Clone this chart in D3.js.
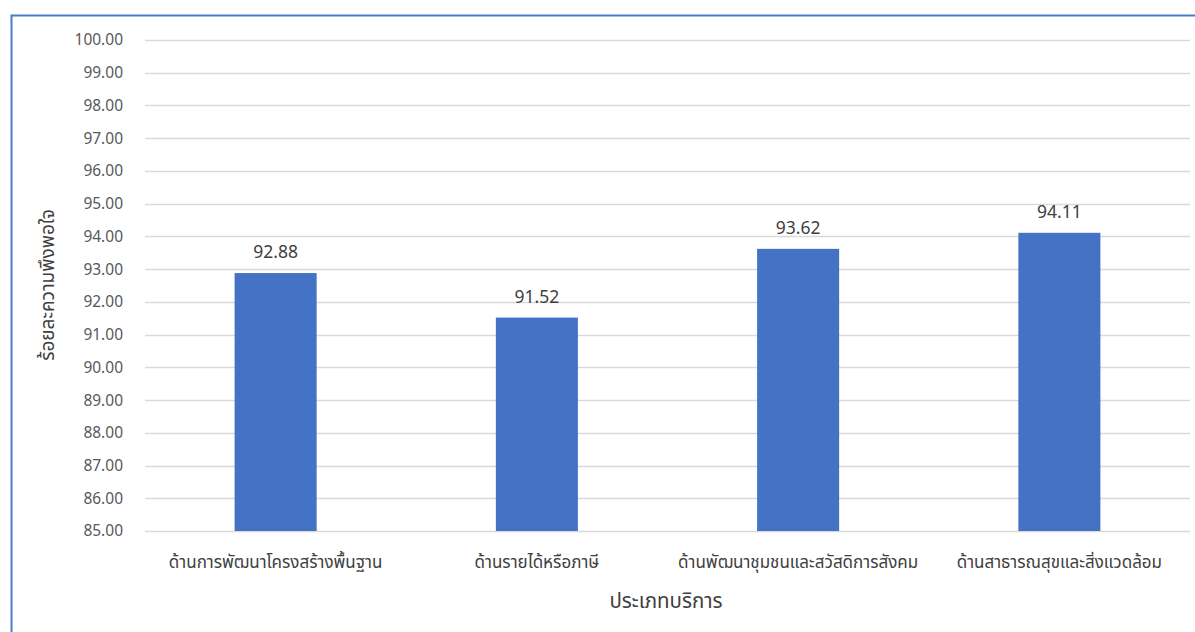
<!DOCTYPE html>
<html lang="th">
<head>
<meta charset="UTF-8">
<title>ร้อยละความพึงพอใจ</title>
<script src="https://d3js.org/d3.v7.min.js"></script>
<style>
  body { margin: 0; background: #fff; }
  svg text { font-family: "Leelawadee UI", "Noto Sans Thai", "Noto Sans", "DejaVu Sans", sans-serif; }
</style>
</head>
<body>
<div id="chart"></div>
<script>
// data
const categories = ["ด้านการพัฒนาโครงสร้างพื้นฐาน", "ด้านรายได้หรือภาษี", "ด้านพัฒนาชุมชนและสวัสดิการสังคม", "ด้านสาธารณสุขและสิ่งแวดล้อม"];
const values = [92.88, 91.52, 93.62, 94.11];
const yTicks = [85, 86, 87, 88, 89, 90, 91, 92, 93, 94, 95, 96, 97, 98, 99, 100];
const xTitle = "ประเภทบริการ";
const yTitle = "ร้อยละความพึงพอใจ";

const W = 1195, H = 632;
const margin = {top: 40, right: 5, bottom: 101, left: 145};
const width = W - margin.left - margin.right,
      height = H - margin.top - margin.bottom;

const root = d3.select("#chart").append("svg")
    .attr("width", W).attr("height", H);

// outer frame (only top and left edges are visible in the picture)
root.append("path")
    .attr("d", `M11.5,${H} V15.5 H${W}`)
    .attr("fill", "none")
    .attr("stroke", "#4a7ccc")
    .attr("stroke-width", 2);

const svg = root.append("g")
    .attr("transform", `translate(${margin.left},${margin.top})`);

const x = d3.scaleBand()
    .domain(categories)
    .range([0, width])
    .padding(0);

const y = d3.scaleLinear()
    .domain([85, 100])
    .range([height, 0]);

// gridlines
svg.append("g")
  .selectAll("line")
  .data(yTicks)
  .join("line")
    .attr("x1", 0).attr("x2", width)
    .attr("y1", d => Math.round(y(d)) + 0.5)
    .attr("y2", d => Math.round(y(d)) + 0.5)
    .attr("stroke", "#d9d9d9")
    .attr("stroke-width", 1.3);

// y axis labels
const yAxis = svg.append("g")
    .call(d3.axisLeft(y).tickValues(yTicks).tickFormat(d3.format(".2f")).tickSize(0).tickPadding(22));
yAxis.select(".domain").remove();
yAxis.selectAll("text")
    .attr("fill", "#595959")
    .style("font-size", "15.5px");

// x axis labels
const xAxis = svg.append("g")
    .attr("transform", `translate(0,${height})`)
    .call(d3.axisBottom(x).tickSize(0).tickPadding(25));
xAxis.select(".domain").remove();
xAxis.selectAll("text")
    .attr("fill", "#404040")
    .style("font-size", "17px");

// bars
const barW = x.bandwidth() * 0.314;
svg.selectAll(".bar")
  .data(values)
  .join("rect")
    .attr("class", "bar")
    .attr("x", (d, i) => x(categories[i]) + (x.bandwidth() - barW) / 2)
    .attr("y", d => y(d))
    .attr("width", barW)
    .attr("height", d => y(85) - y(d))
    .attr("fill", "#4472c4");

// value labels
svg.selectAll(".val")
  .data(values)
  .join("text")
    .attr("class", "val")
    .attr("x", (d, i) => x(categories[i]) + x.bandwidth() / 2)
    .attr("y", d => y(d) - 15)
    .attr("text-anchor", "middle")
    .attr("fill", "#404040")
    .style("font-size", "17.5px")
    .text(d => d3.format(".2f")(d));

// axis titles
svg.append("text")
    .attr("x", 666 - margin.left)
    .attr("y", 608 - margin.top)
    .attr("text-anchor", "middle")
    .attr("fill", "#404040")
    .style("font-size", "20.5px")
    .text(xTitle);

svg.append("text")
    .attr("transform", `translate(${54 - margin.left},${285 - margin.top}) rotate(-90)`)
    .attr("text-anchor", "middle")
    .attr("fill", "#404040")
    .style("font-size", "19px")
    .text(yTitle);
</script>
</body>
</html>
